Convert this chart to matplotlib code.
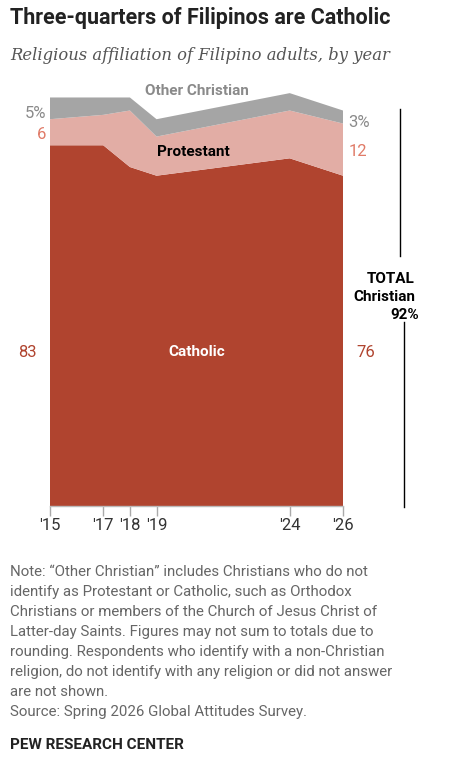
import matplotlib
matplotlib.use("Agg")
import matplotlib.pyplot as plt

# Data
years = [2015, 2017, 2018, 2019, 2024, 2026]
year_labels = ["'15", "'17", "'18", "'19", "'24", "'26"]
catholic = [83, 83, 78, 76, 80, 76]
protestant = [6, 7, 13, 9, 11, 12]
other = [5, 4, 3, 4, 4, 3]
total_christian = 92

note_lines = [
    "Note: \u201cOther Christian\u201d includes Christians who do not",
    "identify as Protestant or Catholic, such as Orthodox",
    "Christians or members of the Church of Jesus Christ of",
    "Latter-day Saints. Figures may not sum to totals due to",
    "rounding. Respondents who identify with a non-Christian",
    "religion, do not identify with any religion or did not answer",
    "are not shown.",
    "Source: Spring 2026 Global Attitudes Survey.",
]

C_CATH = "#B0442F"
C_PROT = "#E2ADA5"
C_OTH = "#A5A5A5"
C_PROT_TXT = "#E07B68"
C_OTH_TXT = "#8A8A8A"

W, H = 462, 758
plt.rcParams["font.family"] = ["Roboto", "DejaVu Sans"]
fig = plt.figure(figsize=(W / 100, H / 100), dpi=100, facecolor="white")


def ftext(x, y, s, **kw):
    fig.text(x / W, 1 - y / H, s, **kw)


ax = fig.add_axes([50 / W, 1 - 506 / H, 293 / W, 434.6 / H])
ax.stackplot(years, catholic, protestant, other,
             colors=[C_CATH, C_PROT, C_OTH], linewidth=0)
ax.set_xlim(years[0], years[-1])
ax.set_ylim(0, 100)
ax.set_yticks([])
for s in ["top", "right", "left"]:
    ax.spines[s].set_visible(False)
ax.spines["bottom"].set_color("#BBBBBB")
ax.spines["bottom"].set_linewidth(1)
ax.set_xticks(years)
ax.set_xticklabels(year_labels, fontsize=12, color="#333333")
ax.tick_params(axis="x", direction="out", length=7, width=1,
               color="#AAAAAA", pad=2)
ax.patch.set_alpha(0)

# Series labels inside the areas
ax.text(2020.5, 95.5, "Other Christian", ha="center", va="center",
        fontsize=11, fontweight="bold", color=C_OTH_TXT)
ax.text(2020.4, 81.5, "Protestant", ha="center", va="center",
        fontsize=11, fontweight="bold", color="black")
ax.text(2020.5, 35.5, "Catholic", ha="center", va="center",
        fontsize=11, fontweight="bold", color="white")

# Start / end values
ax.text(2014.85, 90.2, "%d%%" % other[0], ha="right", va="center",
        fontsize=12, color=C_OTH_TXT)
ax.text(2014.85, 85.4, "%d" % protestant[0], ha="right", va="center",
        fontsize=12, color=C_PROT_TXT)
ax.text(2014.5, 35.4, "%d" % catholic[0], ha="right", va="center",
        fontsize=12, color=C_CATH)
ax.text(2026.2, 88.3, "%d%%" % other[-1], ha="left", va="center",
        fontsize=12, color=C_OTH_TXT)
ax.text(2026.2, 81.5, "%d" % protestant[-1], ha="left", va="center",
        fontsize=12, color=C_PROT_TXT)
ax.text(2026.5, 35.4, "%d" % catholic[-1], ha="left", va="center",
        fontsize=12, color=C_CATH)

# Total Christian bracket
fig.add_artist(plt.Line2D([400 / W, 400 / W], [1 - 109 / H, 1 - 256 / H],
                          color="black", linewidth=1))
fig.add_artist(plt.Line2D([404 / W, 404 / W], [1 - 322 / H, 1 - 507 / H],
                          color="black", linewidth=1))
ftext(415, 279, "TOTAL", ha="right", va="center", fontsize=11,
      fontweight="bold", color="black")
ftext(415, 297, "Christian", ha="right", va="center", fontsize=11,
      fontweight="bold", color="black")
ftext(419, 315, "%d%%" % total_christian, ha="right", va="center",
      fontsize=11, fontweight="bold", color="black")

# Title and subtitle
ftext(10, 18, "Three-quarters of Filipinos are Catholic", ha="left",
      va="center", fontsize=15.5, fontweight="bold", color="#222222")
ftext(10, 55, "Religious affiliation of Filipino adults, by year", ha="left",
      va="center", fontsize=11.8, style="italic", color="#555555",
      family=["DejaVu Serif"])

# Note and source
for i, line in enumerate(note_lines):
    ftext(10, 572 + i * 20, line, ha="left", va="center", fontsize=10.8,
          color="#666666")
ftext(10, 745, "PEW RESEARCH CENTER", ha="left", va="center", fontsize=11,
      fontweight="bold", color="#222222")

fig.savefig("out.png", dpi=100)
